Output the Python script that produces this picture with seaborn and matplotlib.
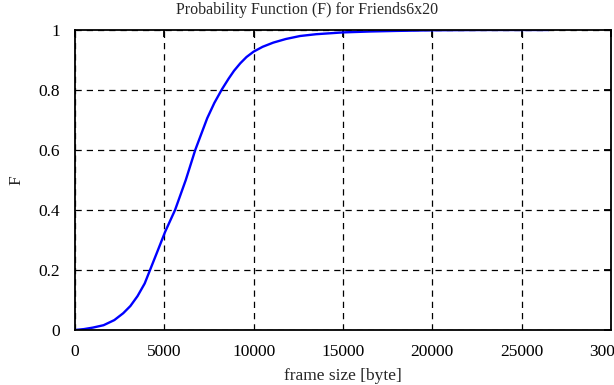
import matplotlib
matplotlib.use("Agg")
import matplotlib.pyplot as plt
import seaborn as sns
import pandas as pd

frame_size = [0, 500, 1000, 1600, 2200, 2700, 3100, 3500, 3900, 4200, 4600, 5050, 5600,
              6200, 6730, 7400, 7800, 8220, 8600, 8900, 9250, 9600, 10000, 10500,
              11100, 11800, 12600, 13500, 15000, 16500, 18000, 20000, 23000, 26500]
F = [0.0, 0.003, 0.008, 0.016, 0.033, 0.056, 0.08, 0.113, 0.155, 0.2, 0.26, 0.328, 0.4,
     0.5, 0.6, 0.706, 0.757, 0.802, 0.838, 0.864, 0.889, 0.910, 0.928, 0.944,
     0.958, 0.970, 0.980, 0.986, 0.992, 0.995, 0.997, 0.999, 1.0, 1.0]

title = "Probability Function (F) for Friends6x20"
xlabel = "frame size [byte]"
ylabel = "F"
xticks = [0, 5000, 10000, 15000, 20000, 25000, 30000]
yticks = [0, 0.2, 0.4, 0.6, 0.8, 1]
ytick_labels = ["0", "0.2", "0.4", "0.6", "0.8", "1"]

sns.set_theme(style="white")
plt.rcParams['font.family'] = ['Liberation Serif', 'DejaVu Serif']
plt.rcParams['font.size'] = 12

df = pd.DataFrame({"x": frame_size, "F": F})

fig = plt.figure(figsize=(6.14, 3.85), dpi=100)
ax = fig.add_axes([75/614, 1-330/385, (611-75)/614, 300/385])
sns.lineplot(data=df, x="x", y="F", ax=ax, color=(0, 0, 1), linewidth=1.7)

ax.set_xlim(0, 30000)
ax.set_ylim(0, 1)
ax.set_xticks(xticks)
ax.set_xticklabels([str(t) for t in xticks])
ax.set_yticks(yticks)
ax.set_yticklabels(ytick_labels)
ax.grid(True, color="black", linestyle=(0, (5, 4)), linewidth=0.9)
for s in ax.spines.values():
    s.set_color("black")
    s.set_linewidth(1.3)
ax.tick_params(direction="in", length=5, width=1.3, top=True, right=True,
               labelsize=12.5, colors="black")
ax.tick_params(axis="x", pad=10)
ax.tick_params(axis="y", pad=11)
ax.set_xlabel(xlabel, fontsize=12.5, labelpad=6)
ax.set_ylabel(ylabel, fontsize=12.5, labelpad=10)
fig.text(0.5, 1 - 10/385, title, fontsize=11.5, ha="center", va="center")

fig.savefig("out.png", dpi=100)
